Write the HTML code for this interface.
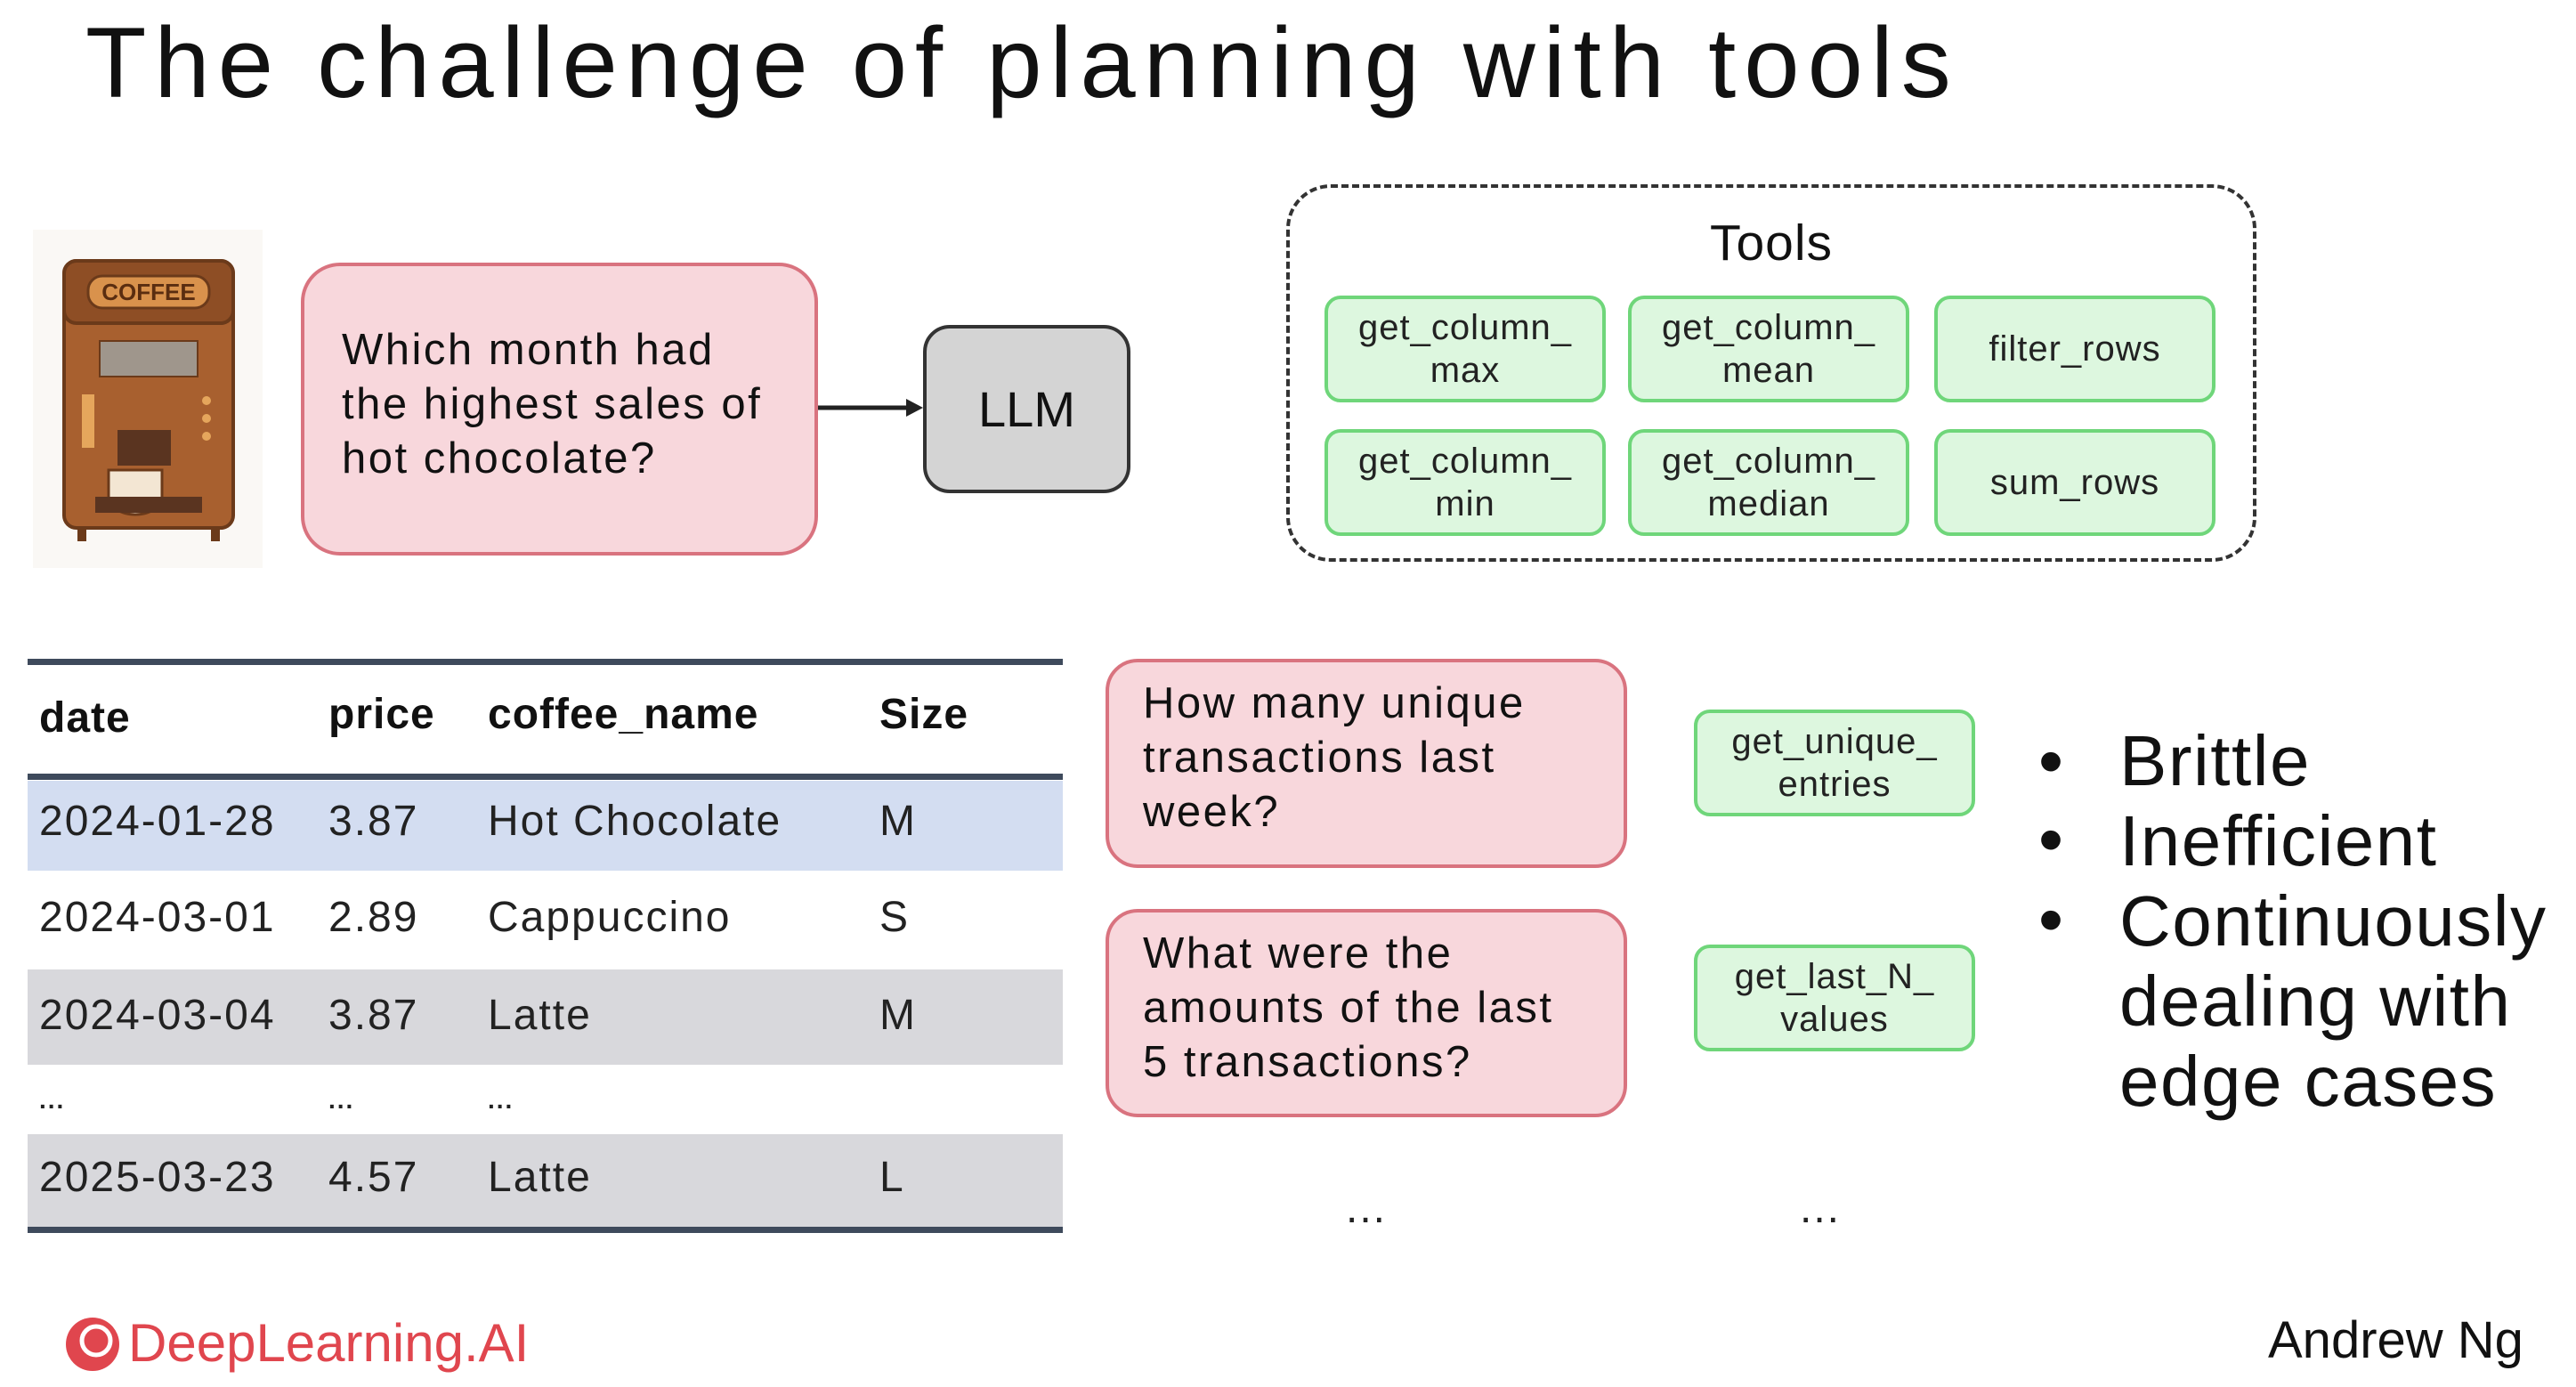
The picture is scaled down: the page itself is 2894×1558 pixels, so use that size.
<!DOCTYPE html>
<html><head><meta charset="utf-8"><style>
*{margin:0;padding:0;box-sizing:border-box}
body{width:2894px;height:1558px;background:#fff;position:relative;overflow:hidden;font-family:"Liberation Sans",sans-serif;color:#111}
.a{position:absolute}
.pink{position:absolute;background:#f8d7dc;border:4px solid #d9737f;border-radius:44px}
.green{position:absolute;background:#ddf7df;border:4px solid #6fd67a;border-radius:18px;display:flex;align-items:center;justify-content:center;text-align:center;font-size:40px;line-height:48px;color:#222;letter-spacing:1px}
.q{position:absolute;font-size:49px;line-height:61px;color:#111;letter-spacing:2.5px;white-space:nowrap}
.t{position:absolute;font-size:48px;color:#222;white-space:nowrap;letter-spacing:2px}
.th{font-weight:bold;color:#111;letter-spacing:1px}
.rule{position:absolute;left:31px;width:1163px;height:7px;background:#3e4a5c}
.bul{position:absolute;font-size:80px;line-height:90px;letter-spacing:1.5px;white-space:nowrap}
</style></head><body>
<div class="a" style="left:96px;top:6px;font-size:112px;letter-spacing:9px;white-space:nowrap">The challenge of planning with tools</div>

<svg class="a" style="left:37px;top:258px" width="258" height="380" viewBox="0 0 258 380">
<rect x="0" y="0" width="258" height="380" fill="#faf8f5"/>
<rect x="35" y="35" width="190" height="300" rx="14" fill="#a8602f" stroke="#6b3a1a" stroke-width="4"/>
<rect x="35" y="35" width="190" height="70" rx="14" fill="#8e4e25" stroke="#6b3a1a" stroke-width="4"/>
<rect x="62" y="52" width="136" height="36" rx="16" fill="#d9924c" stroke="#6b3a1a" stroke-width="3"/>
<text x="130" y="79" font-size="26" font-family="Liberation Sans" font-weight="bold" text-anchor="middle" fill="#5a2d10">COFFEE</text>
<rect x="75" y="125" width="110" height="40" fill="#9f968c" stroke="#6b3a1a" stroke-width="2"/>
<rect x="55" y="185" width="14" height="60" fill="#e5a65c"/>
<circle cx="195" cy="192" r="5" fill="#e5a65c"/><circle cx="195" cy="212" r="5" fill="#e5a65c"/><circle cx="195" cy="232" r="5" fill="#e5a65c"/>
<rect x="95" y="225" width="60" height="40" fill="#5a3420"/>
<path d="M85 270 h60 v30 a30 20 0 0 1 -60 0z" fill="#f3e6d3" stroke="#6b3a1a" stroke-width="3"/>
<rect x="70" y="300" width="120" height="18" fill="#5a3420"/>
<rect x="50" y="335" width="10" height="15" fill="#6b3a1a"/><rect x="200" y="335" width="10" height="15" fill="#6b3a1a"/>
</svg>

<div class="pink" style="left:338px;top:295px;width:581px;height:329px"></div>
<div class="q" style="left:384px;top:363px">Which month had<br>the highest sales of<br>hot chocolate?</div>
<svg class="a" style="left:915px;top:440px" width="125" height="36"><line x1="4" y1="18" x2="105" y2="18" stroke="#222" stroke-width="5"/><polygon points="103,8 122,18 103,28" fill="#222"/></svg>
<div class="a" style="left:1037px;top:365px;width:233px;height:189px;background:#d4d4d4;border:4px solid #333;border-radius:30px;display:flex;align-items:center;justify-content:center;font-size:56px">LLM</div>

<div class="a" style="left:1445px;top:207px;width:1090px;height:424px;border:4px dashed #333;border-radius:50px"></div>
<div class="a" style="left:1445px;top:240px;width:1090px;text-align:center;font-size:57px;letter-spacing:1px">Tools</div>
<div class="green" style="left:1488px;top:332px;width:316px;height:120px">get_column_<br>max</div>
<div class="green" style="left:1829px;top:332px;width:316px;height:120px">get_column_<br>mean</div>
<div class="green" style="left:2173px;top:332px;width:316px;height:120px">filter_rows</div>
<div class="green" style="left:1488px;top:482px;width:316px;height:120px">get_column_<br>min</div>
<div class="green" style="left:1829px;top:482px;width:316px;height:120px">get_column_<br>median</div>
<div class="green" style="left:2173px;top:482px;width:316px;height:120px">sum_rows</div>

<div class="rule" style="top:740px"></div>
<div class="a" style="left:31px;top:877px;width:1163px;height:101px;background:#d3ddf1"></div>
<div class="a" style="left:31px;top:1089px;width:1163px;height:107px;background:#d8d8dc"></div>
<div class="a" style="left:31px;top:1274px;width:1163px;height:105px;background:#d8d8dc"></div>
<div class="rule" style="top:869px"></div>
<div class="rule" style="top:1378px"></div>
<div class="t th" style="left:44px;top:779px">date</div>
<div class="t th" style="left:369px;top:775px">price</div>
<div class="t th" style="left:548px;top:775px">coffee_name</div>
<div class="t th" style="left:988px;top:775px">Size</div>
<div class="t" style="left:44px;top:895px">2024-01-28</div><div class="t" style="left:369px;top:895px">3.87</div><div class="t" style="left:548px;top:895px">Hot Chocolate</div><div class="t" style="left:988px;top:895px">M</div>
<div class="t" style="left:44px;top:1003px">2024-03-01</div><div class="t" style="left:369px;top:1003px">2.89</div><div class="t" style="left:548px;top:1003px">Cappuccino</div><div class="t" style="left:988px;top:1003px">S</div>
<div class="t" style="left:44px;top:1113px">2024-03-04</div><div class="t" style="left:369px;top:1113px">3.87</div><div class="t" style="left:548px;top:1113px">Latte</div><div class="t" style="left:988px;top:1113px">M</div>
<div class="t" style="left:44px;top:1220px;font-size:28px;font-weight:bold">...</div><div class="t" style="left:369px;top:1220px;font-size:28px;font-weight:bold">...</div><div class="t" style="left:548px;top:1220px;font-size:28px;font-weight:bold">...</div>
<div class="t" style="left:44px;top:1295px">2025-03-23</div><div class="t" style="left:369px;top:1295px">4.57</div><div class="t" style="left:548px;top:1295px">Latte</div><div class="t" style="left:988px;top:1295px">L</div>

<div class="pink" style="left:1242px;top:740px;width:586px;height:235px;border-radius:36px"></div>
<div class="q" style="left:1284px;top:760px">How many unique<br>transactions last<br>week?</div>
<div class="pink" style="left:1242px;top:1021px;width:586px;height:234px;border-radius:36px"></div>
<div class="q" style="left:1284px;top:1041px">What were the<br>amounts of the last<br>5 transactions?</div>
<div class="green" style="left:1903px;top:797px;width:316px;height:120px">get_unique_<br>entries</div>
<div class="green" style="left:1903px;top:1061px;width:316px;height:120px">get_last_N_<br>values</div>
<div class="t" style="left:1512px;top:1330px">...</div>
<div class="t" style="left:2022px;top:1330px">...</div>

<div class="bul" style="left:2290px;top:810px">•</div>
<div class="bul" style="left:2290px;top:898px">•</div>
<div class="bul" style="left:2290px;top:988px">•</div>
<div class="bul" style="left:2381px;top:810px;line-height:90px">Brittle<br>Inefficient<br>Continuously<br>dealing with<br>edge cases</div>

<svg class="a" style="left:70px;top:1478px" width="70" height="64"><circle cx="34" cy="32" r="30" fill="#e0464e"/><circle cx="38" cy="28" r="16" fill="none" stroke="#fff" stroke-width="5"/></svg>
<div class="a" style="left:144px;top:1474px;font-size:60px;color:#e0464e;white-space:nowrap">DeepLearning.AI</div>
<div class="a" style="left:2548px;top:1472px;font-size:58px;white-space:nowrap">Andrew Ng</div>
</body></html>
